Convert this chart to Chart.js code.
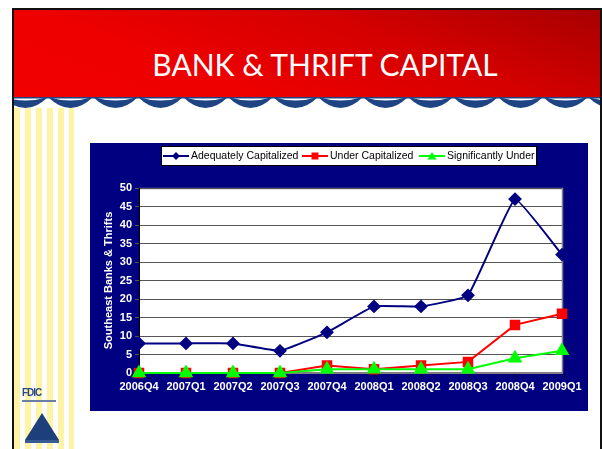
<!DOCTYPE html>
<html>
<head>
<meta charset="utf-8">
<script src="https://cdn.jsdelivr.net/npm/chart.js@4.4.0/dist/chart.umd.min.js"></script>
<style>
  body { margin: 0; background: #fff; }
  #slide { position: relative; width: 602px; height: 449px; overflow: hidden; background: #fff; }
  #frame { position: absolute; left: 12px; top: 8px; width: 586px; height: 460px; border: 2px solid #111; border-bottom: none; }
  #header { position: absolute; left: 14px; top: 10px; width: 586px; height: 87px;
    background: linear-gradient(200deg, #a80000 0%, #d40000 35%, #ee0000 70%, #f20000 100%); }
  #title { position: absolute; left: 14px; top: 46px; width: 622px; text-align: center; color: #fff;
    font-family: Lato, "Open Sans", sans-serif; font-size: 30px; }
  #waves { position: absolute; left: 14px; top: 97px; }
  #stripes { position: absolute; left: 14px; top: 108px; width: 60px; height: 341px;
    background: repeating-linear-gradient(90deg, #fff3a6 0px, #fff3a6 6px, #fff 6px, #fff 11px); }
  #fdic { position: absolute; left: 22px; top: 388px; width: 34px; height: 12px; color: #2a4a86;
    font: bold 10px "Liberation Sans", Arial, sans-serif; letter-spacing: -1px; line-height: 10px;
    border-bottom: 2px solid #6a7fa8; }
  #tri { position: absolute; left: 25px; top: 413px; width: 0; height: 0;
    border-left: 17px solid transparent; border-right: 17px solid transparent; border-bottom: 27px solid #1d3f7c; }
  #triBase { position: absolute; left: 25px; top: 440px; width: 34px; height: 3px; background: #3a5a94; }
  #box { position: absolute; left: 90px; top: 143px; width: 498px; height: 268px; }
</style>
</head>
<body>
<div id="slide">
  <div id="header"></div>
  <div id="title">BANK &amp; THRIFT CAPITAL</div>
  <canvas id="waves" width="586" height="12"></canvas>
  <div id="stripes"></div>
  <div id="fdic">FDIC</div>
  <div id="tri"></div>
  <div id="triBase"></div>
  <div id="frame"></div>
  <div id="box"><canvas id="chartCapital"></canvas></div>
</div>
<script>
// dados do grafico
const trimestres = ['2006Q4', '2007Q1', '2007Q2', '2007Q3', '2007Q4', '2008Q1', '2008Q2', '2008Q3', '2008Q4', '2009Q1'];
const adequados = [8, 8, 8, 6, 11, 18, 18, 21, 47, 32];
const subCapitalizados = [0, 0, 0, 0, 2, 1, 2, 3, 13, 16];
const significativamente = [0, 0, 0, 0, 1, 1, 1, 1, 4, 6];
const ticksY = [0, 5, 10, 15, 20, 25, 30, 35, 40, 45, 50];

// ondinhas azuis debaixo do cabecalho
const w = document.getElementById('waves').getContext('2d');
w.fillStyle = '#1f4483';
for (let x = 48 - 14 - 45; x < 600; x += 45) {
    w.beginPath();
    w.moveTo(x, 0);
    w.quadraticCurveTo(x + 22.5, 7, x + 45, 0);
    w.lineTo(x + 45, 0);
    w.quadraticCurveTo(x + 22.5, 22, x, 0);
    w.fill();
}
w.fillRect(0, 0, 586, 1.5);

const fundo = {
    id: 'fundo',
    beforeDraw(chart) {
        const ctx = chart.ctx;
        const a = chart.chartArea;
        ctx.save();
        ctx.fillStyle = '#000080';
        ctx.fillRect(0, 0, chart.width, chart.height);
        ctx.fillStyle = '#ffffff';
        ctx.fillRect(a.left, a.top, a.right - a.left, a.bottom - a.top);
        // borda cinza da area do grafico
        ctx.strokeStyle = '#808080';
        ctx.lineWidth = 1.5;
        ctx.beginPath();
        ctx.moveTo(a.left, a.top + 0.5);
        ctx.lineTo(a.right + 0.5, a.top + 0.5);
        ctx.lineTo(a.right + 0.5, a.bottom);
        ctx.stroke();
        ctx.restore();
    }
};

// legenda desenhada na mao (linha + marcador)
const posLegenda = [73, 212, 329];
const legenda = {
    id: 'legenda',
    afterDraw(chart) {
        const ctx = chart.ctx;
        ctx.save();
        ctx.fillStyle = '#ffffff';
        ctx.fillRect(71, 3, 376, 20);
        ctx.strokeStyle = '#000';
        ctx.lineWidth = 1;
        ctx.strokeRect(71.5, 3.5, 375, 19);
        ctx.font = '10.5px "Liberation Sans", Arial, sans-serif';
        ctx.textBaseline = 'middle';
        const y = 13;
        chart.data.datasets.forEach((ds, i) => {
            const x = posLegenda[i];
            ctx.strokeStyle = ds.borderColor;
            ctx.lineWidth = 2;
            ctx.beginPath();
            ctx.moveTo(x, y);
            ctx.lineTo(x + 26, y);
            ctx.stroke();
            ctx.fillStyle = ds.backgroundColor;
            const cx = x + 13;
            ctx.beginPath();
            if (ds.pointStyle === 'rectRot') {
                ctx.moveTo(cx, y - 4); ctx.lineTo(cx + 4, y); ctx.lineTo(cx, y + 4); ctx.lineTo(cx - 4, y);
            } else if (ds.pointStyle === 'rect') {
                ctx.rect(cx - 3.5, y - 3.5, 7, 7);
            } else {
                ctx.moveTo(cx, y - 4); ctx.lineTo(cx + 4.5, y + 3.5); ctx.lineTo(cx - 4.5, y + 3.5);
            }
            ctx.fill();
            ctx.fillStyle = '#000';
            ctx.fillText(ds.label, x + 28, y);
        });
        ctx.restore();
    }
};

const capital = document.getElementById('chartCapital');

new Chart(capital, {
    type: 'line',
    data: {
        labels: trimestres,
        datasets: [{
            label: 'Adequately Capitalized',
            data: adequados,
            borderColor: '#000080',
            backgroundColor: '#000080',
            borderWidth: 2,
            pointStyle: 'rectRot',
            pointRadius: 5.5,
            tension: 0.1,
            clip: false,
            order: 3
        },
        {
            label: 'Under Capitalized',
            data: subCapitalizados,
            borderColor: '#ff0000',
            backgroundColor: '#ff0000',
            borderWidth: 2,
            pointStyle: 'rect',
            pointRadius: 6,
            clip: false,
            order: 2
        },
        {
            label: 'Significantly Under',
            data: significativamente,
            borderColor: '#00ff00',
            backgroundColor: '#00ff00',
            borderWidth: 2,
            pointStyle: 'triangle',
            pointRadius: 6.5,
            clip: false,
            order: 1
        }]
    },
    options: {
        responsive: true,
        maintainAspectRatio: false,
        animation: false,
        layout: { padding: { top: 45, right: 26, left: 12, bottom: 0 } },
        plugins: {
            legend: { display: false },
            tooltip: { enabled: false }
        },
        scales: {
            x: {
                offset: false,
                grid: { drawOnChartArea: false, drawTicks: true, tickLength: 4, color: '#000' },
                border: { color: '#808080', width: 2 },
                ticks: {
                    color: '#ffffff',
                    font: { family: '"Liberation Sans", Arial, sans-serif', size: 11, weight: 'bold' },
                    maxRotation: 0,
                    autoSkip: false,
                    padding: 3
                },
                afterFit(scale) {
                    scale.height = 38;
                    scale.paddingLeft = 0;
                    scale.paddingRight = 0;
                }
            },
            y: {
                min: 0,
                max: 50,
                afterBuildTicks(scale) { scale.ticks = ticksY.map(v => ({ value: v })); },
                grid: { color: '#555555', tickLength: 4, lineWidth: 1 },
                border: { color: '#000', width: 1 },
                ticks: {
                    color: '#ffffff',
                    font: { family: '"Liberation Sans", Arial, sans-serif', size: 11, weight: 'bold' },
                    padding: 3
                },
                title: {
                    display: true,
                    text: 'Southeast Banks & Thrifts',
                    color: '#ffffff',
                    font: { family: '"Liberation Sans", Arial, sans-serif', size: 11, weight: 'bold' },
                    padding: 0
                },
                afterFit(scale) {
                    scale.width = 37;
                    scale.paddingTop = 0;
                    scale.paddingBottom = 0;
                }
            }
        }
    },
    plugins: [fundo, legenda]
});
</script>
</body>
</html>
